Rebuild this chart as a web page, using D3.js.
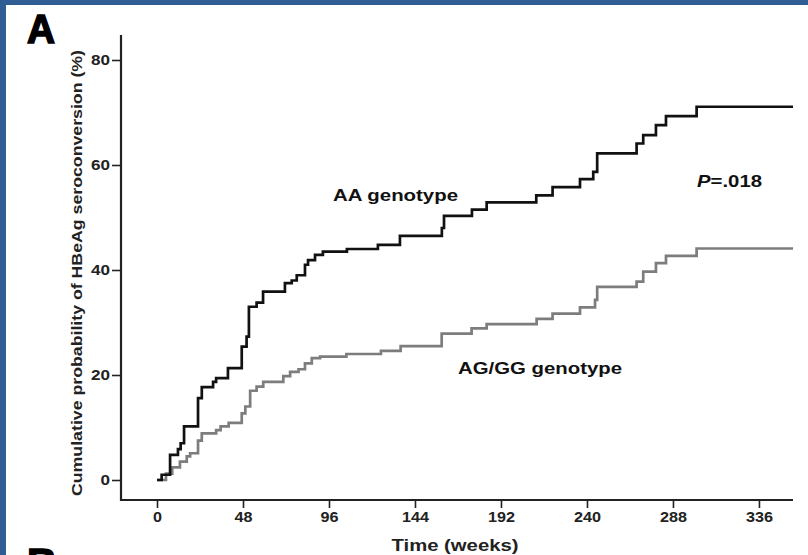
<!DOCTYPE html>
<html>
<head>
<meta charset="utf-8">
<script src="https://cdn.jsdelivr.net/npm/d3@7"></script>
<style>
  body { margin: 0; background: #fff; }
  svg { display: block; font-family: "Liberation Sans", Arial, sans-serif; }
</style>
</head>
<body>
<svg id="chart" width="808" height="555"></svg>
<script>
// tick values
const xTicks = [0, 48, 96, 144, 192, 240, 288, 336];
const yTicks = [0, 20, 40, 60, 80];

// AA genotype (black), step curve: time in weeks, cumulative %
const aaTime = [0, 2.6, 7.3, 11.7, 13.2, 15.1, 22.9, 25, 31.3, 33, 39.6, 47.3, 50, 51.3, 55.6, 59.2, 71.4, 75.2, 78, 82.6, 84.3, 88.2, 92.6, 106, 123.3, 135.6, 159, 160.2, 175.8, 184, 211.7, 220.8, 236.1, 243.5, 245.7, 267.7, 271.4, 278.5, 284.1, 301.2, 355];
const aaPct  = [0, 1, 4.8, 5.9, 7, 10.2, 15.6, 17.7, 18.7, 19.4, 21.3, 25.4, 27.3, 33, 33.8, 35.9, 37.5, 38, 39, 41, 41.9, 42.9, 43.5, 44, 44.8, 46.5, 48, 50.3, 51.5, 52.9, 54.2, 55.8, 57.3, 58.7, 62.2, 64.1, 65.7, 67.6, 69.3, 71.1, 71.1];

// AG/GG genotype (grey)
const agTime = [0, 5, 8.5, 12.8, 16.6, 18.5, 22.9, 25, 33, 35.5, 40, 47.3, 49.3, 52, 55.6, 59.3, 70.5, 74.3, 79, 82.6, 86.4, 91, 105.7, 125, 136, 158.9, 175.6, 184, 211.9, 220.8, 236.1, 244.5, 245.7, 267.7, 271.4, 278.5, 284.1, 301.2, 355];
const agPct  = [0, 1.2, 2.4, 3.5, 4.5, 5.1, 7.5, 8.9, 9.5, 10.2, 10.9, 12.7, 14, 17, 17.8, 18.7, 19.8, 20.6, 21.1, 22.2, 23.2, 23.5, 24, 24.6, 25.5, 27.9, 28.9, 29.7, 30.7, 31.7, 32.9, 34.3, 36.8, 37.8, 39.7, 41.3, 42.7, 44.1, 44.1];

const svg = d3.select("#chart");

// blue slide frame (top + left)
svg.append("rect").attr("x", 0).attr("y", 0).attr("width", 808).attr("height", 5).attr("fill", "#305e94");
svg.append("rect").attr("x", 0).attr("y", 0).attr("width", 6).attr("height", 555).attr("fill", "#305e94");

const axisLeftX = 121, axisBottomY = 500;

const x = d3.scaleLinear().domain([0, 355]).range([157, 793]);
const y = d3.scaleLinear().domain([0, 80]).range([480, 60]);

// x axis
const gx = svg.append("g")
  .attr("transform", `translate(0,${axisBottomY})`)
  .call(d3.axisBottom(x).tickValues(xTicks).tickSizeInner(8).tickSizeOuter(0).tickPadding(4));
gx.select(".domain").remove();
gx.selectAll(".tick line").attr("stroke", "#222").attr("stroke-width", 1.6);
gx.selectAll(".tick text")
  .style("font-size", "14px").style("font-weight", "bold").style("fill", "#222")
  .attr("textLength", d => String(d).length * 9)
  .attr("lengthAdjust", "spacingAndGlyphs");

// y axis
const gy = svg.append("g")
  .attr("transform", `translate(${axisLeftX},0)`)
  .call(d3.axisLeft(y).tickValues(yTicks).tickSizeInner(9).tickSizeOuter(0).tickPadding(2));
gy.select(".domain").remove();
gy.selectAll(".tick line").attr("stroke", "#222").attr("stroke-width", 1.6);
gy.selectAll(".tick text")
  .style("font-size", "14px").style("font-weight", "bold").style("fill", "#222")
  .attr("textLength", d => String(d).length * 9.5)
  .attr("lengthAdjust", "spacingAndGlyphs");

// axis lines, x axis starts at the y axis
svg.append("line").attr("x1", axisLeftX).attr("x2", 793).attr("y1", axisBottomY).attr("y2", axisBottomY)
  .attr("stroke", "#222").attr("stroke-width", 2.2);
svg.append("line").attr("x1", axisLeftX).attr("x2", axisLeftX).attr("y1", 35).attr("y2", axisBottomY + 1)
  .attr("stroke", "#222").attr("stroke-width", 2.2);

// curves
const line = d3.line().x(d => x(d[0])).y(d => y(d[1])).curve(d3.curveStepAfter);

svg.append("path")
  .datum(d3.zip(agTime, agPct))
  .attr("d", line)
  .attr("fill", "none").attr("stroke", "#7d7d7d").attr("stroke-width", 2.7);

svg.append("path")
  .datum(d3.zip(aaTime, aaPct))
  .attr("d", line)
  .attr("fill", "none").attr("stroke", "#111").attr("stroke-width", 2.7);

// axis titles
svg.append("text")
  .attr("x", 455).attr("y", 551)
  .attr("text-anchor", "middle")
  .attr("textLength", 127).attr("lengthAdjust", "spacingAndGlyphs")
  .style("font-size", "16px").style("font-weight", "bold").style("fill", "#222")
  .text("Time (weeks)");

svg.append("text")
  .attr("transform", "translate(82,273) rotate(-90)")
  .attr("text-anchor", "middle")
  .attr("textLength", 446).attr("lengthAdjust", "spacingAndGlyphs")
  .style("font-size", "15px").style("font-weight", "bold").style("fill", "#222")
  .text("Cumulative probability of HBeAg seroconversion (%)");

// annotations
svg.append("text")
  .attr("x", 333).attr("y", 201)
  .attr("textLength", 125).attr("lengthAdjust", "spacingAndGlyphs")
  .style("font-size", "16px").style("font-weight", "bold").style("fill", "#111")
  .text("AA genotype");

svg.append("text")
  .attr("x", 458).attr("y", 374)
  .attr("textLength", 164).attr("lengthAdjust", "spacingAndGlyphs")
  .style("font-size", "17px").style("font-weight", "bold").style("fill", "#111")
  .text("AG/GG genotype");

const pText = svg.append("text")
  .attr("x", 697).attr("y", 187)
  .attr("textLength", 65).attr("lengthAdjust", "spacingAndGlyphs")
  .style("font-size", "17px").style("font-weight", "bold").style("fill", "#111");
pText.append("tspan").style("font-style", "italic").text("P");
pText.append("tspan").text("=.018");

// panel letters (B is cut by the bottom edge, as in the source slide)
svg.append("text")
  .attr("x", 27).attr("y", 43)
  .attr("textLength", 28).attr("lengthAdjust", "spacingAndGlyphs")
  .style("font-size", "41px").style("font-weight", "bold").style("fill", "#000")
  .style("stroke", "#000").style("stroke-width", 1.6)
  .text("A");
svg.append("text")
  .attr("x", 27).attr("y", 577)
  .style("font-size", "41px").style("font-weight", "bold").style("fill", "#000")
  .style("stroke", "#000").style("stroke-width", 1.6)
  .text("B");
</script>
</body>
</html>
